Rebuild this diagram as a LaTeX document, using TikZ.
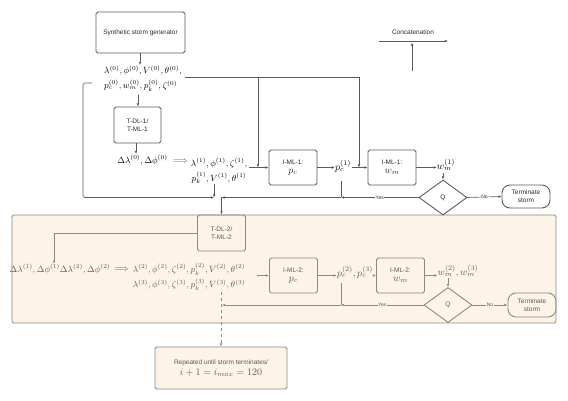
\documentclass[tikz,border=0pt]{standalone}
\usepackage{fontspec}
\setmainfont{Liberation Sans}
\usetikzlibrary{arrows.meta,shapes.geometric}
\definecolor{ln}{HTML}{5A5A5A}
\definecolor{lnl}{HTML}{8E8984}
\definecolor{txl}{HTML}{5E5A56}
\definecolor{panel}{HTML}{FDF3E6}
\definecolor{txd}{HTML}{2A2A2A}
\begin{document}
\begin{tikzpicture}[x=1pt,y=-1pt,
  lbl/.style={font=\fontsize{6.5}{7.8}\selectfont},
  box/.style={draw=ln, line width=0.9pt, rounded corners=1.8pt, align=center, inner sep=0pt, text=txd, lbl},
  boxl/.style={box, draw=lnl, text=txl},
  dia/.style={diamond, draw=ln, line width=0.9pt, inner sep=0pt, minimum width=48pt, minimum height=35pt, aspect=1.37, text=txd, lbl},
  dial/.style={dia, draw=lnl, text=txl},
  term/.style={draw=ln, line width=0.9pt, rounded corners=8pt, align=center, inner sep=0pt, minimum width=48pt, lbl, text=txd},
  terml/.style={term, draw=lnl, text=txl},
  mth/.style={font=\fontsize{9}{15}\selectfont, inner sep=0pt, align=center},
  mthl/.style={font=\fontsize{8.6}{15.5}\selectfont, inner sep=0pt, align=center, text=txl},
  arr/.style={draw=ln, line width=0.6pt, -{Latex[length=3.2pt,width=2.6pt]}},
  arrl/.style={arr, draw=lnl},
  ln0/.style={draw=ln, line width=0.6pt},
  lnl0/.style={draw=lnl, line width=0.6pt},
  yn/.style={font=\fontsize{5}{5.5}\selectfont, fill=white, inner sep=0.6pt, text=txd},
  ynl/.style={yn, fill=panel, text=txl}
]
\useasboundingbox (0,0) rectangle (568,401);

% ---------- lower panel background ----------
\node[draw=lnl, line width=0.9pt, fill=panel, rounded corners=1.5pt, minimum width=544pt, minimum height=108pt, inner sep=0pt] (panelbox) at (284,269) {};

% ---------- upper part ----------
\node[box, minimum width=89pt, minimum height=41pt] (syn) at (140.5,32.5) {Synthetic storm generator};
\node[mth, align=left, anchor=west] (inp) at (104,78.5) {$\lambda^{(0)},\phi^{(0)},V^{(0)},\theta^{(0)},$\\$p_c^{(0)},w_m^{(0)},p_k^{(0)},\zeta^{(0)}$};
\node[box, minimum width=47pt, minimum height=36pt] (tdl1) at (137.5,125) {T-DL-1/\\T-ML-1};
\node[mth] (dl0) at (142.5,160) {$\Delta\lambda^{(0)},\Delta\phi^{(0)}$};
\node[mth, text=ln] (imp1) at (180.5,162) {$\Longrightarrow$};
\node[mth] (lam1) at (219,171) {$\lambda^{(1)},\phi^{(1)},\zeta^{(1)},$\\$p_k^{(1)},V^{(1)},\theta^{(1)}$};
\node[box, minimum width=48pt, minimum height=35pt] (pcb1) at (293,167.5) {I-ML-1:\\[1pt]{\fontsize{10}{10}\selectfont$p_c$}};
\node[mth, font=\fontsize{10}{12}\selectfont] (pc1) at (343,166) {$p_c^{(1)}$};
\node[box, minimum width=48pt, minimum height=35pt] (wmb1) at (392,167.5) {I-ML-1:\\[1pt]{\fontsize{10}{10}\selectfont$w_m$}};
\node[mth, font=\fontsize{10}{12}\selectfont] (wm1) at (446,165) {$w_m^{(1)}$};
\node[dia] (q1) at (443,197.5) {Q};
\node[term, minimum height=23pt] (t1) at (526,196.5) {Terminate\\storm};

% legend
\node[lbl, text=txd, inner sep=0pt] (cat) at (413,32) {Concatenation};
\coordinate (ca) at (379,41);
\coordinate (cb) at (448,41);
\coordinate (cc) at (412,71);
\coordinate (cd) at (412,42.5);
\draw[arr] (ca) -- (cb);
\draw[arr] (cc) -- (cd);

% upper connectors
\draw[arr] (syn.south -| 140,0) -- (140,65);
\draw[arr] (138,95) -- (tdl1.north -| 138,0);
\draw[arr] (tdl1.south -| 136,0) -- (136,154);
\coordinate (b0) at (185,77);
\coordinate (b1) at (258,77);
\coordinate (b2) at (359,77);
\draw[ln0] (b0) -- (b2);
\draw[arr] (b1) -- (b1 |- pcb1.west);
\draw[arr] (b2) -- (b2 |- wmb1.west);
\draw[arr] (pcb1.west -| 249,0) -- (pcb1.west);
\draw[arr] (pcb1.east) -- (pcb1.east -| pc1.west);
\draw[arr] (pcb1.east -| 352,0) -- (wmb1.west);
\draw[arr] (wmb1.east) -- (wmb1.east -| wm1.west);
\draw[arr] (q1.north |- 0,173) -- (q1.north);
\draw[arr] (q1.east) -- node[yn]{No} (t1.west);
\coordinate (j1) at (341,197.5);
\coordinate (j0) at (221.5,197.5);
\draw[arr] (q1.west) -- node[yn]{Yes} (j1);
\draw[arr] (j1) -- (j0);
\draw[ln0] (341,181) -- (j1);
\coordinate (l0) at (92,83);
\coordinate (l1) at (83,83);
\coordinate (l2) at (83,197.5);
\coordinate (l3) at (214,197.5);
\draw[arr, rounded corners=1.5pt] (l0) -- (l1) -- (l2) -- (l3);
\draw[arr] (214,184) -- (l3);

% ---------- lower part ----------
\node[boxl, minimum width=48pt, minimum height=36pt] (tdl2) at (221.5,233) {T-DL-2/\\T-ML-2};
\draw[arr] (j0) -- (tdl2.north);
\node[mthl] (dl12) at (60,269) {$\Delta\lambda^{(1)},\Delta\phi^{(1)}\Delta\lambda^{(2)},\Delta\phi^{(2)}$};
\node[mthl] (imp2) at (121.5,270) {$\Longrightarrow$};
\node[mthl] (lam23) at (189,277) {$\lambda^{(2)},\phi^{(2)},\zeta^{(2)},p_k^{(2)},V^{(2)},\theta^{(2)}$\\$\lambda^{(3)},\phi^{(3)},\zeta^{(3)},p_k^{(3)},V^{(3)},\theta^{(3)}$};
\node[boxl, minimum width=48pt, minimum height=35pt] (pcb2) at (293.5,275.5) {I-ML-2:\\[1pt]{\fontsize{10}{10}\selectfont$p_c$}};
\node[mth, text=txl, font=\fontsize{10}{12}\selectfont] (pc23) at (355,272) {$p_c^{(2)},p_c^{(3)}$};
\node[boxl, minimum width=48pt, minimum height=35pt] (wmb2) at (400.5,275.5) {I-ML-2:\\[1pt]{\fontsize{10}{10}\selectfont$w_m$}};
\node[mth, text=txl, font=\fontsize{10}{12}\selectfont] (wm23) at (458,271) {$w_m^{(2)},w_m^{(3)}$};
\node[dial] (q2) at (448,305) {Q};
\node[terml, minimum height=24pt] (t2) at (532,305) {Terminate\\storm};
\node[boxl, minimum width=132pt, minimum height=42pt, fill=panel] (rep) at (221,368) {Repeated until storm terminates/\\[2pt]{\fontsize{10}{12}\selectfont$i+1=i_{max}=120$}};

\coordinate (k1) at (54,233);
\draw[arrl] (tdl2.west) -- (k1) -- (k1 |- dl12.north);
\draw[arrl] (257,275.5) -- (pcb2.west);
\draw[arrl] (pcb2.east) -- (pcb2.east -| pc23.west);
\draw[arrl] (pcb2.east -| pc23.east) -- (wmb2.west);
\draw[arrl] (wmb2.east) -- (wmb2.east -| wm23.west);
\draw[arrl] (q2.north |- 0,278) -- (q2.north);
\draw[arrl] (q2.east) -- node[ynl]{No} (t2.west);
\coordinate (m1) at (341,305);
\coordinate (m0) at (222,305);
\draw[arrl] (q2.west) -- node[ynl]{Yes} (m1);
\draw[arrl] (m1) -- (m0);
\draw[lnl0] (341,283) -- (m1);
\draw[arrl, dashed] (221,292) -- (rep.north);
\end{tikzpicture}
\end{document}
